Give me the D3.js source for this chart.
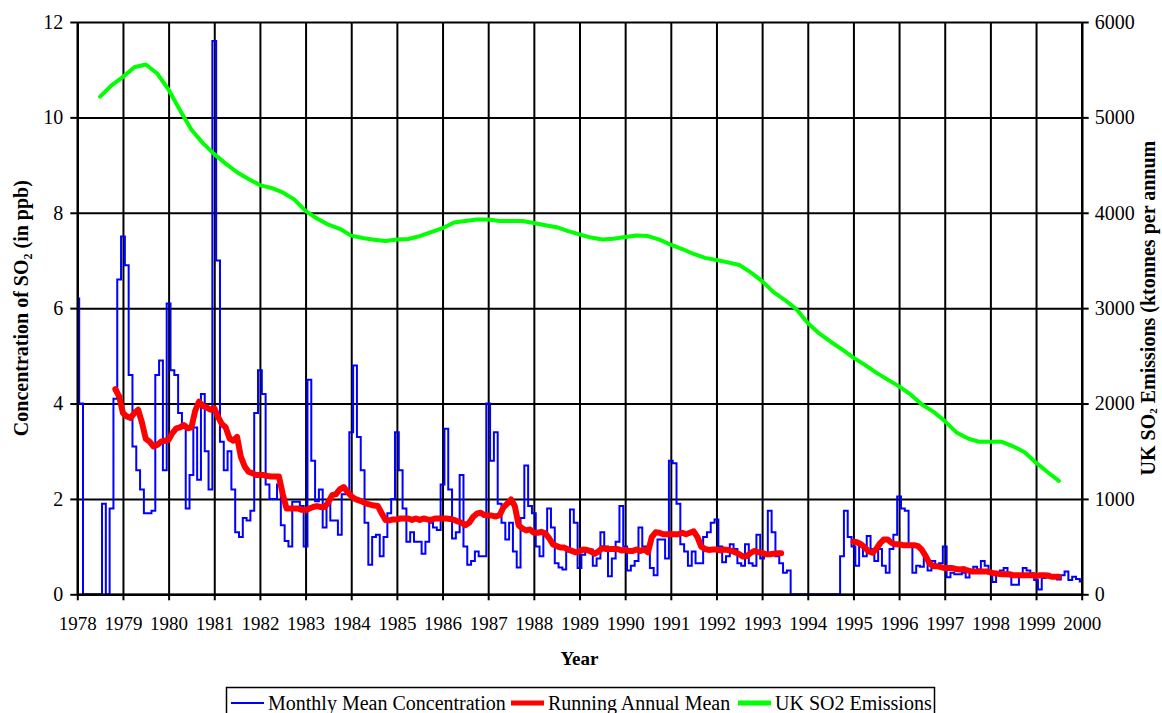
<!DOCTYPE html>
<html>
<head>
<meta charset="utf-8">
<script src="https://cdn.jsdelivr.net/npm/d3@7/dist/d3.min.js"></script>
<style>
  html, body { margin: 0; padding: 0; background: #fff; }
  svg { display: block; font-family: "Liberation Serif", "DejaVu Serif", serif; }
</style>
</head>
<body>
<div id="chart"></div>
<script>
// year ticks on the x axis
const yearTicks = [1978, 1979, 1980, 1981, 1982, 1983, 1984, 1985, 1986, 1987, 1988,
                   1989, 1990, 1991, 1992, 1993, 1994, 1995, 1996, 1997, 1998, 1999, 2000];
const leftTicks = [0, 2, 4, 6, 8, 10, 12];
const rightTicks = [0, 1000, 2000, 3000, 4000, 5000, 6000];

// monthly mean SO2 concentration (ppb), one value per month from Jan 1978
const monthStart = 1978;
const monthlyMean = [
  6.2, 4.0, 0, 0, 0, 0, 0, 1.9, 0, 1.8, 4.1, 6.6,                          // 1978
  7.5, 6.9, 4.6, 3.1, 2.6, 2.2, 1.7, 1.7, 1.75, 4.6, 4.9, 2.6,              // 1979
  6.1, 4.7, 4.6, 3.8, 3.5, 1.8, 2.5, 3.5, 2.4, 4.2, 3.0, 2.2,               // 1980
  11.6, 7.0, 3.2, 2.6, 3.0, 2.2, 1.3, 1.2, 1.6, 1.55, 1.75, 3.8,            // 1981
  4.7, 4.2, 2.3, 2.0, 2.0, 2.3, 1.45, 1.12, 1.0, 1.94, 1.94, 1.85,          // 1982
  1.0, 4.5, 2.8, 1.95, 2.2, 1.4, 1.9, 1.55, 1.55, 1.25, 2.1, 2.1,           // 1983
  3.4, 4.8, 3.3, 2.6, 1.5, 0.62, 1.2, 1.25, 0.8, 1.2, 1.7, 2.0,             // 1984
  3.4, 2.6, 1.8, 1.1, 1.3, 1.1, 1.1, 0.85, 1.1, 1.5, 1.4, 1.35,             // 1985
  2.3, 3.47, 2.2, 1.17, 1.3, 2.5, 1.0, 0.62, 0.7, 0.9, 0.8, 0.8,            // 1986
  4.0, 2.8, 3.4, 1.9, 1.5, 1.15, 1.5, 0.9, 0.56, 1.6, 2.7, 1.85,            // 1987
  1.7, 1.0, 0.8, 1.3, 1.8, 1.4, 0.65, 0.56, 0.52, 0.9, 1.78, 1.5,           // 1988
  0.55, 0.83, 0.9, 0.94, 0.6, 0.75, 1.3, 1.0, 0.38, 0.75, 1.1, 1.85,        // 1989
  1.0, 0.5, 0.6, 0.7, 1.4, 1.0, 0.95, 0.55, 0.4, 1.15, 1.15, 0.75,          // 1990
  2.8, 2.75, 1.9, 1.05, 0.9, 0.6, 0.9, 0.65, 0.65, 1.2, 1.3, 1.5,           // 1991
  1.57, 1.0, 0.67, 0.8, 1.05, 0.95, 0.65, 0.6, 1.05, 0.65, 0.6, 1.25,       // 1992
  0.75, 0.85, 1.75, 1.3, 0.8, 0.65, 0.45, 0.5, 0, 0, 0, 0,                  // 1993
  0, 0, 0, 0, 0, 0, 0, 0, 0, 0.8, 1.75, 1.2,                                // 1994
  1.0, 0.6, 1.0, 0.8, 1.22, 0.95, 0.7, 0.95, 0.6, 0.45, 0.95, 1.25,         // 1995
  2.05, 1.8, 1.75, 1.05, 0.45, 0.6, 0.58, 0.76, 0.5, 0.7, 0.58, 0.65,       // 1996
  1.0, 0.36, 0.45, 0.42, 0.42, 0.45, 0.35, 0.5, 0.58, 0.52, 0.7, 0.6,       // 1997
  0.48, 0.26, 0.42, 0.5, 0.55, 0.38, 0.2, 0.2, 0.42, 0.55, 0.5, 0.44,       // 1998
  0.3, 0.1, 0.34, 0.43, 0.38, 0.34, 0.31, 0.4, 0.48, 0.3, 0.37, 0.32,       // 1999
  0.27                                                                      // 2000
];

// running annual mean (ppb), same months, null where not plotted
const runningMean = [
  null, null, null, null, null, null, null, null, null, null, 4.3, 4.15,    // 1978
  3.8, 3.73, 3.7, 3.8, 3.87, 3.6, 3.26, 3.2, 3.1, 3.13, 3.2, 3.22,          // 1979
  3.24, 3.38, 3.48, 3.5, 3.55, 3.48, 3.5, 3.85, 4.04, 3.95, 3.92, 3.87,     // 1980
  3.9, 3.72, 3.57, 3.5, 3.27, 3.22, 3.3, 2.88, 2.68, 2.57, 2.54, 2.5,       // 1981
  2.5, 2.5, 2.48, 2.47, 2.47, 2.47, 2.1, 1.8, 1.8, 1.8, 1.8, 1.77,          // 1982
  1.76, 1.8, 1.83, 1.85, 1.83, 1.83, 1.93, 2.08, 2.1, 2.2, 2.25, 2.15,      // 1983
  2.06, 2.0, 1.97, 1.94, 1.9, 1.88, 1.86, 1.85, 1.7, 1.56, 1.55, 1.57,      // 1984
  1.57, 1.59, 1.59, 1.59, 1.56, 1.59, 1.56, 1.59, 1.57, 1.56, 1.59, 1.59,   // 1985
  1.59, 1.59, 1.58, 1.56, 1.53, 1.5, 1.45, 1.5, 1.62, 1.69, 1.71, 1.66,     // 1986
  1.65, 1.65, 1.63, 1.66, 1.82, 1.9, 1.99, 1.85, 1.45, 1.38, 1.34, 1.36,    // 1987
  1.29, 1.29, 1.31, 1.28, 1.18, 1.05, 1.01, 0.98, 0.98, 0.94, 0.91, 0.88,   // 1988
  0.9, 0.94, 0.93, 0.9, 0.85, 0.9, 0.97, 0.95, 0.95, 0.95, 0.95, 0.92,      // 1989
  0.93, 0.91, 0.91, 0.94, 0.91, 0.94, 0.88, 1.2, 1.3, 1.29, 1.26, 1.26,     // 1990
  1.26, 1.26, 1.26, 1.29, 1.26, 1.29, 1.32, 1.2, 1.0, 0.95, 0.93, 0.94,     // 1991
  0.94, 0.92, 0.94, 0.93, 0.91, 0.88, 0.84, 0.79, 0.8, 0.87, 0.91, 0.88,    // 1992
  0.87, 0.84, 0.84, 0.85, 0.86, 0.86, null, null, null, null, null, null,   // 1993
  null, null, null, null, null, null, null, null, null, null, null, null,   // 1994
  1.1, 1.09, 1.05, 0.98, 0.9, 0.87, 0.95, 1.07, 1.15, 1.15, 1.08, 1.05,     // 1995
  1.05, 1.03, 1.03, 1.03, 1.03, 1.01, 0.93, 0.8, 0.65, 0.59, 0.59, 0.57,    // 1996
  0.55, 0.55, 0.55, 0.53, 0.52, 0.53, 0.5, 0.48, 0.48, 0.48, 0.48, 0.48,    // 1997
  0.46, 0.44, 0.43, 0.42, 0.42, 0.42, 0.4, 0.4, 0.4, 0.4, 0.4, 0.4,         // 1998
  0.38, 0.4, 0.4, 0.39, 0.37, 0.37, 0.37, null, null, null, null, null,     // 1999
  null                                                                      // 2000
];

// UK SO2 emissions (ktonnes per annum), quarterly from mid 1978
const emissionsStart = 1978.5;
const ukEmissions = [
  5217, 5335, 5425, 5525, 5555, 5460, 5290, 5075, 4870, 4730,
  4615, 4515, 4425, 4355, 4290, 4260, 4213, 4140, 4020, 3940,
  3875, 3832, 3760, 3735, 3718, 3703, 3720, 3725, 3755, 3798,
  3838, 3898, 3913, 3930, 3930, 3913, 3913, 3913, 3893, 3870,
  3849, 3808, 3773, 3740, 3720, 3728, 3745, 3762, 3756, 3718,
  3665, 3620, 3568, 3527, 3505, 3480, 3453, 3375, 3283, 3168,
  3085, 2990, 2845, 2735, 2648, 2568, 2482, 2405, 2324, 2251,
  2180, 2095, 1990, 1915, 1816, 1700, 1635, 1599, 1599, 1599,
  1550, 1490, 1380, 1282, 1190
];

const legendItems = [
  { label: "Monthly Mean Concentration", color: "#0000ff", width: 2 },
  { label: "Running Annual Mean", color: "#ff0000", width: 5 },
  { label: "UK SO2 Emissions", color: "#00ff00", width: 5 }
];

const w = 1162;
const h = 713;
const x0 = 77.3, x1 = 1081.7, yTop = 22, yBottom = 594.3;

const xScale = d3.scaleLinear().domain([1978, 2000]).range([x0, x1]);
const yLeft = d3.scaleLinear().domain([0, 12]).range([yBottom, yTop]);
const yRight = d3.scaleLinear().domain([0, 6000]).range([yBottom, yTop]);

const svg = d3.select("#chart")
              .append("svg")
              .attr("width", w)
              .attr("height", h);

// grid
svg.append("g")
   .attr("class", "grid")
   .attr("transform", "translate(0," + yBottom + ")")
   .call(d3.axisBottom(xScale).tickValues(yearTicks).tickSize(-(yBottom - yTop)).tickFormat(""));
svg.append("g")
   .attr("class", "grid")
   .attr("transform", "translate(" + x0 + ",0)")
   .call(d3.axisLeft(yLeft).tickValues(leftTicks).tickSize(-(x1 - x0)).tickFormat(""));
svg.selectAll(".grid .domain").remove();
svg.selectAll(".grid line").attr("stroke", "#000").attr("stroke-width", 2);

// series
const concData = monthlyMean.map((v, i) => ({ t: monthStart + i / 12, v: v }));
const meanData = runningMean.map((v, i) => ({ t: monthStart + i / 12, v: v }));
const emisData = ukEmissions.map((v, i) => ({ t: emissionsStart + i / 4, v: v }));

// the monthly series is drawn as a staircase like the original
const stepLine = d3.line()
                   .curve(d3.curveStep)
                   .x((d) => xScale(d.t))
                   .y((d) => yLeft(d.v));
const leftLine = d3.line()
                   .defined((d) => d.v !== null)
                   .x((d) => xScale(d.t))
                   .y((d) => yLeft(d.v));
const rightLine = d3.line()
                    .x((d) => xScale(d.t))
                    .y((d) => yRight(d.v));

svg.append("path")
   .datum(concData)
   .attr("d", stepLine)
   .attr("fill", "none")
   .attr("stroke", "#0000ff")
   .attr("stroke-width", 2);

svg.append("path")
   .datum(meanData)
   .attr("d", leftLine)
   .attr("fill", "none")
   .attr("stroke", "#ff0000")
   .attr("stroke-width", 6)
   .attr("stroke-linejoin", "round")
   .attr("stroke-linecap", "round");

svg.append("path")
   .datum(emisData)
   .attr("d", rightLine)
   .attr("fill", "none")
   .attr("stroke", "#00ff00")
   .attr("stroke-width", 4)
   .attr("stroke-linejoin", "round")
   .attr("stroke-linecap", "round");

// axes
const xAxis = svg.append("g")
   .attr("transform", "translate(0," + yBottom + ")")
   .call(d3.axisBottom(xScale).tickValues(yearTicks).tickFormat(d3.format("d"))
           .tickSize(6).tickSizeOuter(0).tickPadding(16.5));
const yAxisL = svg.append("g")
   .attr("transform", "translate(" + x0 + ",0)")
   .call(d3.axisLeft(yLeft).tickValues(leftTicks).tickFormat(d3.format("d"))
           .tickSize(7).tickSizeOuter(0).tickPadding(7));
const yAxisR = svg.append("g")
   .attr("transform", "translate(" + x1 + ",0)")
   .call(d3.axisRight(yRight).tickValues(rightTicks).tickFormat(d3.format("d"))
           .tickSize(7).tickSizeOuter(0).tickPadding(6));

[xAxis, yAxisL, yAxisR].forEach((g) => {
  g.selectAll(".domain").attr("stroke", "#000").attr("stroke-width", 2.4);
  g.selectAll(".tick line").attr("stroke", "#000").attr("stroke-width", 2);
  g.selectAll("text").attr("fill", "#000")
   .style("font-family", '"Liberation Serif", "DejaVu Serif", serif');
});
xAxis.selectAll("text").style("font-size", "19px");
yAxisL.selectAll("text").style("font-size", "20px");
yAxisR.selectAll("text").style("font-size", "20px");

// titles
const leftTitle = svg.append("text")
   .attr("transform", "translate(28," + ((yTop + yBottom) / 2) + ") rotate(-90)")
   .attr("text-anchor", "middle")
   .style("font-size", "20px")
   .style("font-weight", "bold");
leftTitle.append("tspan").text("Concentration of SO");
leftTitle.append("tspan").attr("dy", 4).style("font-size", "12px").text("2");
leftTitle.append("tspan").attr("dy", -4).text(" (in ppb)");

const rightTitle = svg.append("text")
   .attr("transform", "translate(1155," + ((yTop + yBottom) / 2) + ") rotate(-90)")
   .attr("text-anchor", "middle")
   .style("font-size", "20px")
   .style("font-weight", "bold");
rightTitle.append("tspan").text("UK SO");
rightTitle.append("tspan").attr("dy", 2).style("font-size", "11px").text("2");
rightTitle.append("tspan").attr("dy", -2).text(" Emissions (ktonnes per annum");

svg.append("text")
   .attr("x", (x0 + x1) / 2)
   .attr("y", 665)
   .attr("text-anchor", "middle")
   .style("font-size", "19px")
   .style("font-weight", "bold")
   .text("Year");

// legend
svg.append("rect")
   .attr("x", 226.5).attr("y", 687.5)
   .attr("width", 708).attr("height", 40)
   .attr("fill", "#fff")
   .attr("stroke", "#000")
   .attr("stroke-width", 1.5);

const legendX = [231, 511, 738];
const legend = svg.selectAll(".legend-item")
   .data(legendItems)
   .enter()
   .append("g")
   .attr("class", "legend-item")
   .attr("transform", (d, i) => "translate(" + legendX[i] + ",703)");
legend.append("line")
   .attr("x1", 0).attr("x2", 33)
   .attr("y1", 0).attr("y2", 0)
   .attr("stroke", (d) => d.color)
   .attr("stroke-width", (d) => d.width);
legend.append("text")
   .attr("x", 37)
   .attr("y", 7)
   .style("font-size", "20px")
   .text((d) => d.label);
</script>
</body>
</html>
